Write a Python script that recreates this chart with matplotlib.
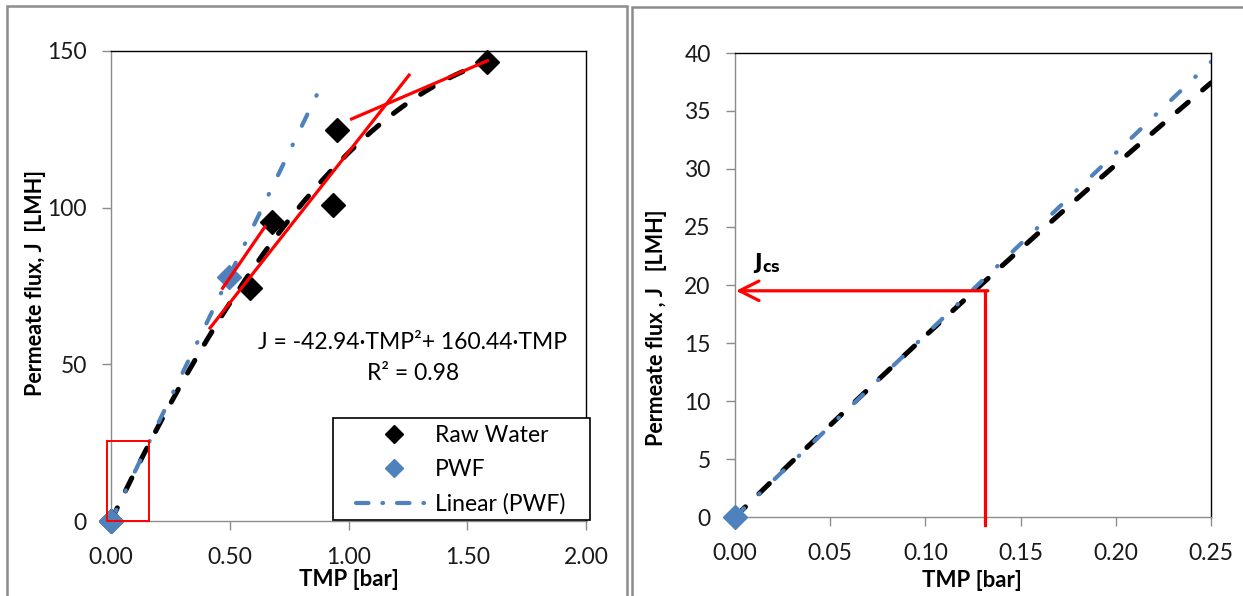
import numpy as np
import matplotlib
matplotlib.use("Agg")
import matplotlib.pyplot as plt
from matplotlib.patches import Rectangle
from matplotlib.lines import Line2D

plt.rcParams['font.family'] = ['Lato', 'DejaVu Sans']
plt.rcParams['lines.scale_dashes'] = False

# measured data
raw_tmp = [0.0, 0.585, 0.678, 0.935, 0.95, 1.585]
raw_flux = [0.0, 74.4, 95.4, 100.9, 124.8, 146.5]
pwf_tmp = [0.0, 0.497]
pwf_flux = [0.0, 78.0]

# quadratic fit for raw water (from the equation label)
a2, a1 = -42.94, 160.44
r2 = 0.98
raw_fit_end = 1.585
pwf_fit_end = 0.89

# tangent segments on the raw water curve
tangents = [
    ([0.417, 1.255], [61.6, 142.3]),
    ([0.470, 0.648], [74.3, 93.9]),
    ([1.013, 1.585], [128.3, 146.9]),
]

# critical flux read-off on the zoomed view
jcs_tmp, jcs_flux = 0.1313, 19.5

# linear trendline through origin for PWF
px = np.array(pwf_tmp)
py = np.array(pwf_flux)
pwf_slope = (px * py).sum() / (px * px).sum()

W, H = 1243, 596
fig = plt.figure(figsize=(W / 100, H / 100), dpi=100)

# outer panel frames
fig.patches.append(Rectangle((7 / W, -0.05), 620 / W, 1.05 - 6 / H, transform=fig.transFigure,
                             fill=False, edgecolor='#8c8c8c', lw=1.8))
fig.patches.append(Rectangle((632 / W, -0.05), 0.6, 1.05 - 7 / H, transform=fig.transFigure,
                             fill=False, edgecolor='#8c8c8c', lw=1.8))


def box(l, r, t, b):
    return [l / W, 1 - b / H, (r - l) / W, (b - t) / H]


FS = 16.5


def style(ax):
    for s in ['left', 'bottom']:
        ax.spines[s].set_color('#8c8c8c')
    for s in ['top', 'right']:
        ax.spines[s].set_color('black')
    for s in ax.spines.values():
        s.set_linewidth(1.0)
    ax.tick_params(direction='out', length=6.5, width=1, color='#8c8c8c',
                   labelsize=FS, labelcolor='#1a1a1a')
    ax.tick_params(axis='y', pad=11)
    ax.tick_params(axis='x', pad=12)


blue = '#4f81bd'
black_dash = dict(color='black', lw=3.6, dashes=(10.5, 13.5), dash_capstyle='round')
blue_dash = dict(color=blue, lw=3.0, dashes=(9, 15, 0.5, 15), dash_capstyle='round')

# ---- left: full range ----
ax1 = fig.add_axes(box(111, 586, 51, 521))
style(ax1)
t = np.linspace(0, raw_fit_end, 200)
ax1.plot(t, a2 * t ** 2 + a1 * t, zorder=3, **black_dash)
t2 = np.linspace(0, pwf_fit_end, 50)
ax1.plot(t2, pwf_slope * t2, zorder=3.5, **blue_dash)
ax1.plot(raw_tmp, raw_flux, 'D', color='black', ms=12, ls='none', zorder=4, clip_on=False)
ax1.plot(pwf_tmp[1:], pwf_flux[1:], 'D', color=blue, ms=12, ls='none', zorder=2)
ax1.plot(pwf_tmp[:1], pwf_flux[:1], 'D', color=blue, ms=12, ls='none', zorder=4.5, clip_on=False)
for xs, ys in tangents:
    ax1.plot(xs, ys, color='red', lw=2.3, zorder=5)
ax1.add_patch(Rectangle((-0.017, 0), 0.177, 25.5, fill=False, edgecolor='red', lw=1.4,
                        clip_on=False, zorder=6))
ax1.set_xlim(0, 2)
ax1.set_ylim(0, 150)
ax1.set_xticks([0, 0.5, 1.0, 1.5, 2.0])
ax1.set_xticklabels(['0.00', '0.50', '1.00', '1.50', '2.00'])
ax1.set_yticks([0, 50, 100, 150])
ax1.text(1.27, 57.0, 'J = -42.94·TMP²+ 160.44·TMP', ha='center', va='center', fontsize=FS)
ax1.text(1.27, 47.0, f'R² = {r2:.2f}', ha='center', va='center', fontsize=FS)
ax1.set_xlabel('TMP [bar]', fontsize=16, fontweight='bold')
ax1.xaxis.set_label_coords(348.5 / W, 1 - 569 / H, transform=fig.transFigure)
ax1.set_ylabel('Permeate flux, J  [LMH]', fontsize=15.5, fontweight='bold')
ax1.yaxis.set_label_coords(46 / W, 1 - 283 / H, transform=fig.transFigure)

# legend: frame drawn separately so its size can be set exactly
ax1.add_patch(Rectangle((333 / W, 1 - 520 / H), 257 / W, 102 / H, transform=fig.transFigure,
                        facecolor='white', edgecolor='black', lw=1.2, zorder=9, clip_on=False))
handles = [
    Line2D([], [], marker='D', color='black', ls='none', ms=9),
    Line2D([], [], marker='D', color=blue, ls='none', ms=9),
    Line2D([], [], color=blue, lw=3.0, dashes=(9, 10, 0.5, 10), dash_capstyle='round'),
]
leg = ax1.legend(handles, ['Raw Water', 'PWF', 'Linear (PWF)'], loc='center left',
                 bbox_to_anchor=(356 / W, 1 - 470 / H), bbox_transform=fig.transFigure,
                 fontsize=FS, frameon=False, handlelength=3.3, handletextpad=0.15,
                 borderpad=0, labelspacing=0.58, borderaxespad=0)
leg.set_zorder(10)

# ---- right: zoom near origin ----
ax2 = fig.add_axes(box(735, 1211, 53, 517))
style(ax2)
t = np.linspace(0, 0.25, 100)
ax2.plot(t, a2 * t ** 2 + a1 * t, zorder=2, **black_dash)
ax2.plot(t, pwf_slope * t, zorder=3, **blue_dash)
ax2.plot(pwf_tmp[:1], pwf_flux[:1], 'D', color=blue, ms=12, ls='none', zorder=4, clip_on=False)
ax2.annotate('', xy=(0.0005, jcs_flux), xytext=(jcs_tmp + 0.0015, jcs_flux),
             arrowprops=dict(arrowstyle='->,head_length=0.7,head_width=0.35', color='red',
                             lw=2.3, mutation_scale=20, shrinkA=0, shrinkB=0), zorder=5)
ax2.plot([jcs_tmp, jcs_tmp], [jcs_flux, -0.7], color='red', lw=2.3, clip_on=False, zorder=5)
ax2.text(0.0095, 20.9, r'$\mathbf{J_{cs}}$', fontsize=15, ha='left', va='bottom')
ax2.set_xlim(0, 0.25)
ax2.set_ylim(0, 40)
ax2.set_xticks([0, 0.05, 0.10, 0.15, 0.20, 0.25])
ax2.set_xticklabels(['0.00', '0.05', '0.10', '0.15', '0.20', '0.25'])
ax2.set_yticks(range(0, 41, 5))
ax2.set_xlabel('TMP [bar]', fontsize=16, fontweight='bold')
ax2.xaxis.set_label_coords(972 / W, 1 - 570 / H, transform=fig.transFigure)
ax2.set_ylabel('Permeate flux , J   [LMH]', fontsize=15.5, fontweight='bold')
ax2.yaxis.set_label_coords(667 / W, 1 - 328 / H, transform=fig.transFigure)

fig.savefig('out.png', dpi=100)
